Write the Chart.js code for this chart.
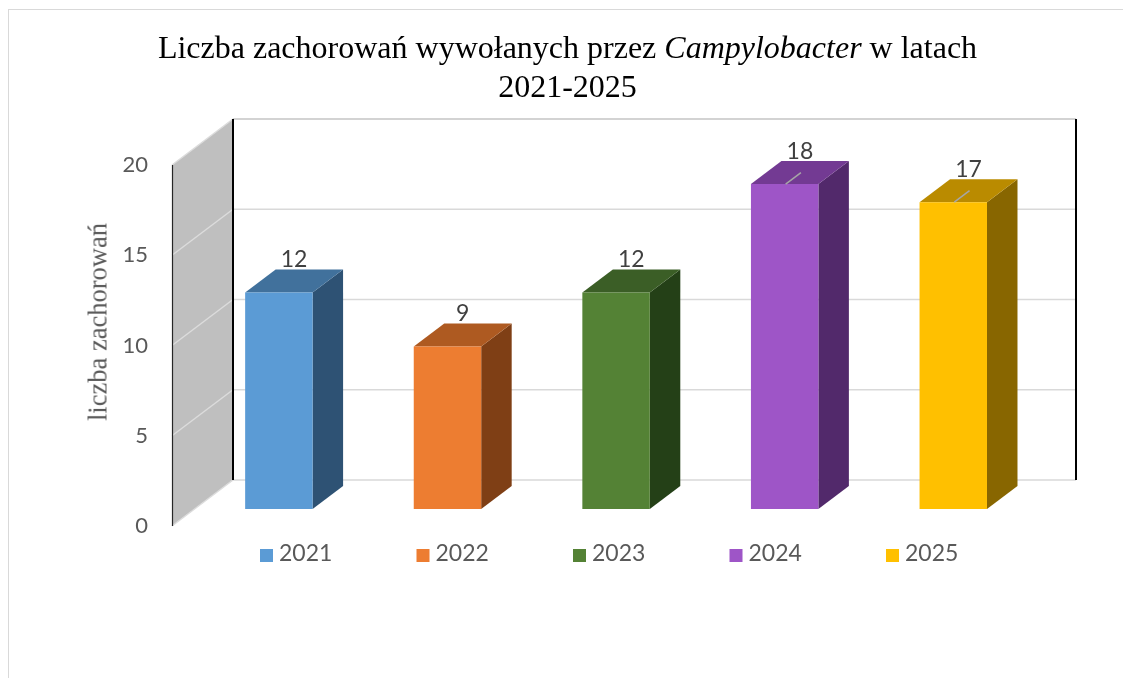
<!DOCTYPE html>
<html lang="pl">
<head>
<meta charset="utf-8">
<title>Campylobacter 2021-2025</title>
<script src="https://cdn.jsdelivr.net/npm/chart.js@4.4.1/dist/chart.umd.min.js"></script>
<style>
    html, body { margin: 0; padding: 0; background: #fff; }
    #wrap { position: relative; width: 1123px; height: 678px; overflow: hidden; }
    #frame { position: absolute; left: 8px; top: 9px; width: 1200px; height: 800px; border: 1.5px solid #d9d9d9; }
    #title {
        position: absolute; left: 0; top: 28px; width: 1135px; text-align: center;
        font-family: "Liberation Serif", "Times New Roman", serif; font-size: 32px; line-height: 39px; color: #000;
    }
    #ytitle {
        position: absolute; left: 98px; top: 322px; transform: translate(-50%, -50%) rotate(-90deg);
        font-family: "Liberation Serif", "Times New Roman", serif; font-size: 26.5px; color: #595959; white-space: nowrap;
    }
    #chart { position: absolute; left: 0; top: 0; }
</style>
</head>
<body>
<div id="wrap">
    <div id="frame"></div>
    <canvas id="chart" width="1123" height="678"></canvas>
    <div id="title">Liczba zachorowań wywołanych przez <i>Campylobacter</i> w latach<br>2021-2025</div>
    <div id="ytitle">liczba zachorowań</div>
</div>
<script>
// dane
const years = ['2021', '2022', '2023', '2024', '2025'];
const cases = [12, 9, 12, 18, 17];
const yTickStep = 5;
const yMax = 20;

// kolory (przod / gora / bok slupka)
const frontColors = ['#5b9bd5', '#ed7d31', '#548235', '#9e55c7', '#ffc000'];
const topColors   = ['#41719c', '#ae5a21', '#3b5e26', '#733a93', '#ba8b00'];
const sideColors  = ['#2e5274', '#7f3f15', '#244017', '#52296b', '#886600'];
const withLeader  = [false, false, false, true, true];

// geometria 3D: pelna glebokosc "pudelka" i polozenie slupkow w glebi
const DEPTH_X = 61, DEPTH_Y = -46;
const BAR_FRONT = 0.37, BAR_DEPTH = 0.5;

function line(ctx, x1, y1, x2, y2, color, w) {
    ctx.strokeStyle = color;
    ctx.lineWidth = w;
    ctx.beginPath();
    ctx.moveTo(x1, y1);
    ctx.lineTo(x2, y2);
    ctx.stroke();
}

function poly(ctx, pts, color) {
    ctx.fillStyle = color;
    ctx.beginPath();
    ctx.moveTo(pts[0][0], pts[0][1]);
    pts.slice(1).forEach(p => ctx.lineTo(p[0], p[1]));
    ctx.closePath();
    ctx.fill();
}

const box3d = {
    id: 'box3d',
    beforeDatasetsDraw(chart) {
        const { ctx, chartArea: a, scales: { y } } = chart;
        ctx.save();
        // sciana boczna
        poly(ctx, [[a.left, a.top], [a.left + DEPTH_X, a.top + DEPTH_Y],
                   [a.left + DEPTH_X, a.bottom + DEPTH_Y], [a.left, a.bottom]], '#bfbfbf');
        // linie siatki na scianie bocznej i tylnej
        y.ticks.forEach(t => {
            const py = y.getPixelForValue(t.value);
            line(ctx, a.left, py, a.left + DEPTH_X, py + DEPTH_Y, '#dcdcdc', 1.5);
            line(ctx, a.left + DEPTH_X, py + DEPTH_Y, a.right + DEPTH_X, py + DEPTH_Y,
                 t.value === yMax ? '#c4c4c4' : '#d9d9d9', 1.5);
        });
        // krawedzie
        line(ctx, a.left + 0.5, a.top, a.left + 0.5, a.bottom, '#262626', 1.2);
        line(ctx, a.left + DEPTH_X, a.top + DEPTH_Y, a.left + DEPTH_X, a.bottom + DEPTH_Y, '#000', 2);
        line(ctx, a.right + DEPTH_X, a.top + DEPTH_Y, a.right + DEPTH_X, a.bottom + DEPTH_Y, '#000', 2);
        ctx.restore();
    },
    beforeDatasetDraw(chart, args) {
        const ctx = chart.ctx;
        const ox = BAR_FRONT * DEPTH_X, oy = BAR_FRONT * DEPTH_Y;
        const dx = BAR_DEPTH * DEPTH_X, dy = BAR_DEPTH * DEPTH_Y;
        ctx.save();
        args.meta.data.forEach((bar, i) => {
            const l = bar.x - bar.width / 2 + ox, r = bar.x + bar.width / 2 + ox;
            const t = bar.y + oy, b = bar.base + oy;
            poly(ctx, [[r, t], [r + dx, t + dy], [r + dx, b + dy], [r, b]], sideColors[i]);
            poly(ctx, [[l, t], [l + dx, t + dy], [r + dx, t + dy], [r, t]], topColors[i]);
            poly(ctx, [[l, t], [r, t], [r, b], [l, b]], frontColors[i]);

            const cx = bar.x + ox;
            if (withLeader[i]) line(ctx, cx + 1, t, cx + dx / 2 + 1, t + dy / 2, '#a6a6a6', 1.5);
            ctx.fillStyle = '#404040';
            ctx.font = '23px Lato';
            ctx.textAlign = 'center';
            ctx.textBaseline = 'middle';
            ctx.fillText(String(cases[i]), cx + dx / 2, t + dy - 10);
        });
        ctx.restore();
        return false;
    },
    afterDraw(chart) {
        // legenda
        const { ctx, chartArea: a } = chart;
        ctx.save();
        ctx.font = '23px Lato';
        ctx.textAlign = 'left';
        ctx.textBaseline = 'alphabetic';
        years.forEach((yr, i) => {
            const x = a.left + 88 + i * 156.5;
            ctx.fillStyle = frontColors[i];
            ctx.fillRect(x, 549, 13, 13);
            ctx.fillStyle = '#595959';
            ctx.fillText(yr, x + 19, 561);
        });
        ctx.restore();
    }
};

new Chart(document.getElementById('chart'), {
    type: 'bar',
    data: {
        labels: years,
        datasets: [{
            label: 'liczba zachorowań',
            data: cases,
            backgroundColor: frontColors,
            barPercentage: 0.4,
            categoryPercentage: 1,
        }],
    },
    options: {
        responsive: false,
        animation: false,
        layout: { padding: { left: 60, right: 108, top: 165, bottom: 152 } },
        plugins: {
            legend: { display: false },
            tooltip: { enabled: false },
            title: { display: false },
        },
        scales: {
            x: { display: false },
            y: {
                min: 0,
                max: yMax,
                ticks: { stepSize: yTickStep, padding: 24, color: '#595959', font: { family: 'Lato', size: 22 } },
                grid: { display: false, drawTicks: false },
                border: { display: false },
                afterFit: s => { s.width = 112; },
            },
        },
    },
    plugins: [box3d],
});
</script>
</body>
</html>
